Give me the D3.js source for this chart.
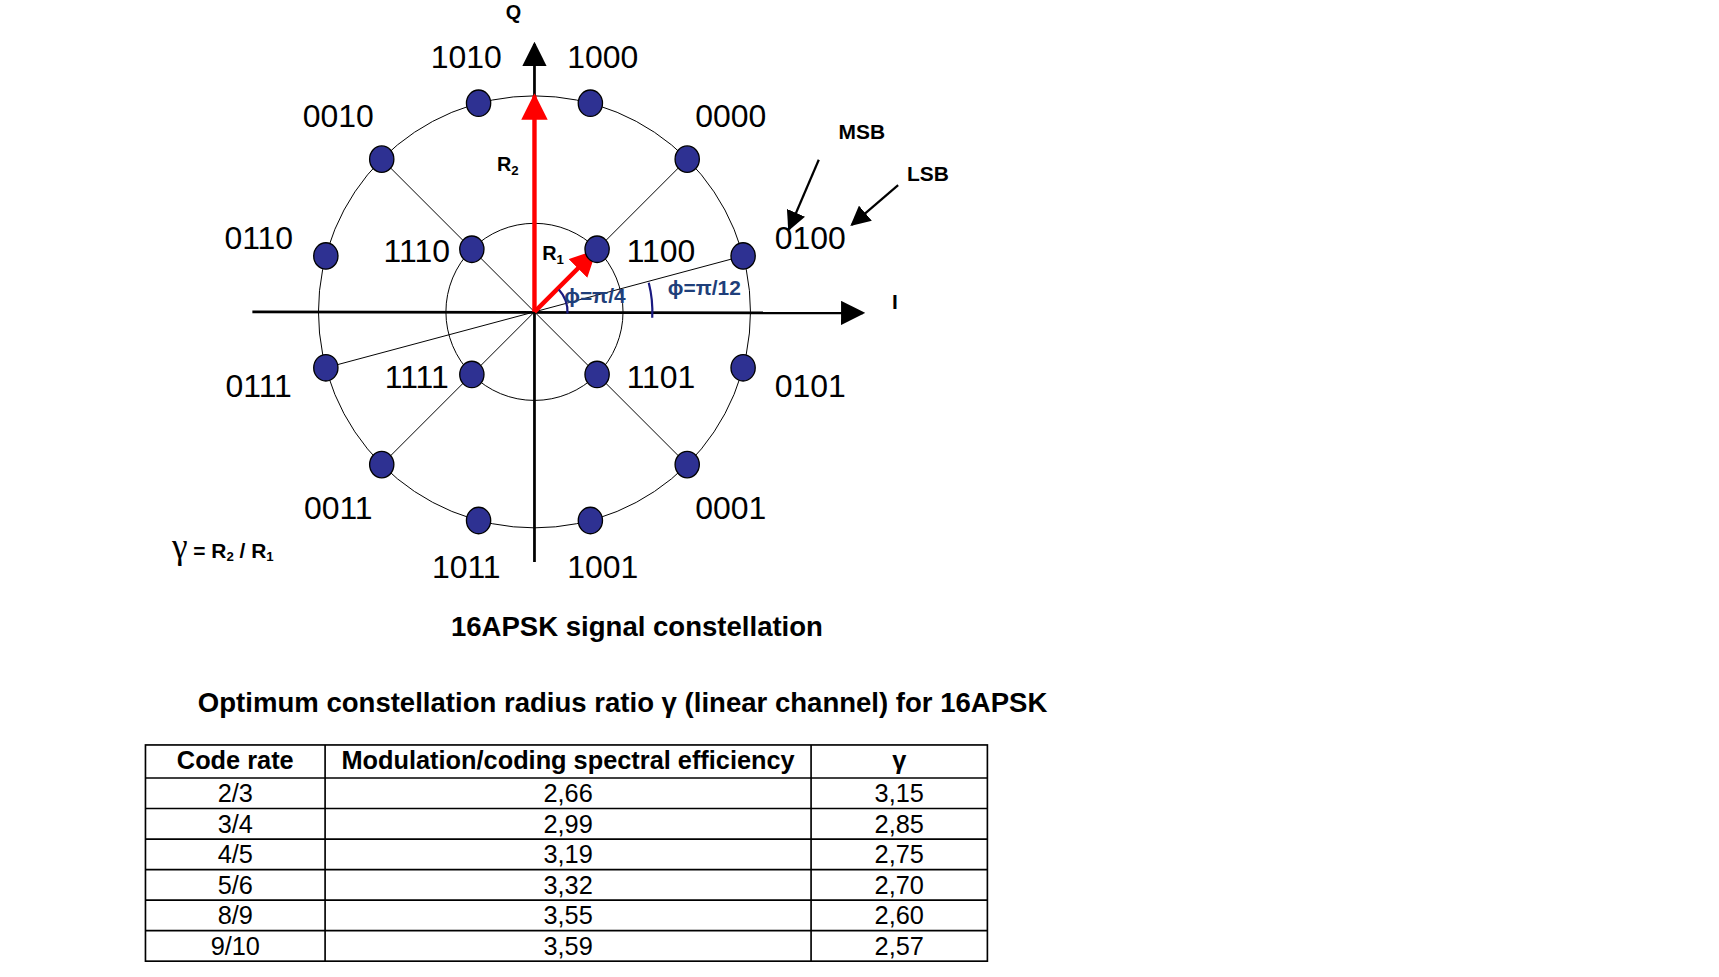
<!DOCTYPE html>
<html>
<head>
<meta charset="utf-8">
<script src="https://cdn.jsdelivr.net/npm/d3@7"></script>
<style>
  body { margin: 0; background: #fff; }
  text { font-family: "Liberation Sans Narrow", "Liberation Sans", Arial, sans-serif; }
</style>
</head>
<body>
<div id="chart"></div>
<script>
// outer ring symbols, 12 points starting at 15 degrees, 30 degrees apart
var outerBits = ["0100", "1000", "1010", "0010", "0110", "0111",
                 "0011", "1011", "1001", "0001", "0101", "0000"];
var outerAngles = [15, 75, 105, 135, 165, 195, 225, 255, 285, 315, 345, 45];
// inner ring symbols, 4 points at 45 + 90k degrees
var innerBits = ["1100", "1110", "1111", "1101"];
var innerAngles = [45, 135, 225, 315];
var ringRadius = { inner: 0.41, outer: 1 };

// table
var tableHeader = ["Code rate", "Modulation/coding spectral efficiency", "γ"];
var codeRates = ["2/3", "3/4", "4/5", "5/6", "8/9", "9/10"];
var spectralEff = ["2,66", "2,99", "3,19", "3,32", "3,55", "3,59"];
var gammaValues = ["3,15", "2,85", "2,75", "2,70", "2,60", "2,57"];

var W = 1719, H = 977, s = 1.102;
var svg = d3.select("#chart").append("svg").attr("width", W).attr("height", H);
var g = svg.append("g").attr("transform", "scale(" + s + ")");

var defs = svg.append("defs");
function marker(id, color, size) {
  defs.append("marker").attr("id", id).attr("viewBox", "0 0 10 10")
    .attr("refX", 9).attr("refY", 5).attr("markerWidth", size).attr("markerHeight", size)
    .attr("markerUnits", "userSpaceOnUse").attr("orient", "auto")
    .append("path").attr("d", "M0,0L10,5L0,10z").attr("fill", color);
}
marker("blk", "#000", 22);
marker("red", "#f00", 24);
marker("blk2", "#000", 18);

var cx = 485, cy = 283;
var r = d3.scaleLinear().domain([0, 1]).range([0, 196]);
function pos(a, rad) {
  var t = a * Math.PI / 180;
  return [cx + rad * Math.cos(t), cy - rad * Math.sin(t)];
}

// circles
[ringRadius.inner, ringRadius.outer].forEach(function (v) {
  g.append("circle").attr("cx", cx).attr("cy", cy).attr("r", r(v))
    .attr("fill", "none").attr("stroke", "#000").attr("stroke-width", 0.9);
});

// spokes through center
[[135, 315], [45, 225], [15, 195]].forEach(function (p) {
  var a = pos(p[0], r(1)), b = pos(p[1], r(1));
  g.append("line").attr("x1", a[0]).attr("y1", a[1]).attr("x2", b[0]).attr("y2", b[1])
    .attr("stroke", "#000").attr("stroke-width", 0.9);
});

// axes
g.append("line").attr("x1", 229).attr("y1", cy).attr("x2", 783).attr("y2", cy + 1)
  .attr("stroke", "#000").attr("stroke-width", 2.5).attr("marker-end", "url(#blk)");
g.append("line").attr("x1", cx).attr("y1", 510).attr("x2", cx).attr("y2", 40)
  .attr("stroke", "#000").attr("stroke-width", 2.5).attr("marker-end", "url(#blk)");
g.append("text").attr("x", 466).attr("y", 17).attr("text-anchor", "middle")
  .attr("font-weight", "bold").attr("font-size", 18).text("Q");
g.append("text").attr("x", 812).attr("y", 280).attr("text-anchor", "middle")
  .attr("font-weight", "bold").attr("font-size", 19).text("I");

// red radius arrows
var p2 = pos(90, r(1)), p1 = pos(45, r(ringRadius.inner) - 3);
g.append("line").attr("x1", cx).attr("y1", cy).attr("x2", p2[0]).attr("y2", p2[1])
  .attr("stroke", "#f00").attr("stroke-width", 4).attr("marker-end", "url(#red)");
g.append("line").attr("x1", cx).attr("y1", cy).attr("x2", p1[0]).attr("y2", p1[1])
  .attr("stroke", "#f00").attr("stroke-width", 4).attr("marker-end", "url(#red)");
function rlabel(x, y, sub) {
  var t = g.append("text").attr("x", x).attr("y", y).attr("font-weight", "bold").attr("font-size", 18);
  t.append("tspan").text("R");
  t.append("tspan").attr("font-size", 12).attr("dy", 4).text(sub);
}
rlabel(451, 155, "2");
rlabel(492, 236, "1");

// angle arcs
var arc = d3.arc();
[[30, 45], [107, 15]].forEach(function (d) {
  g.append("path").attr("transform", "translate(" + cx + "," + cy + ")")
    .attr("d", arc({ innerRadius: d[0], outerRadius: d[0], startAngle: Math.PI / 2 - d[1] * Math.PI / 180 * 0.95, endAngle: Math.PI / 2 + 0.05 }))
    .attr("fill", "none").attr("stroke", "#1a1a80").attr("stroke-width", 2);
});
g.append("text").attr("x", 512).attr("y", 275).attr("fill", "#1f3f7a").attr("font-size", 19)
  .attr("font-family", "Liberation Serif, serif").attr("font-weight", "bold").text("ϕ=π/4");
g.append("text").attr("x", 606).attr("y", 268).attr("fill", "#1f3f7a").attr("font-size", 19)
  .attr("font-family", "Liberation Serif, serif").attr("font-weight", "bold").text("ϕ=π/12");

// symbol points and labels
var pts = outerBits.map(function (b, i) { return { bits: b, a: outerAngles[i], ring: "outer" }; })
  .concat(innerBits.map(function (b, i) { return { bits: b, a: innerAngles[i], ring: "inner" }; }));
pts.forEach(function (d) {
  var p = pos(d.a, r(ringRadius[d.ring]));
  g.append("ellipse").attr("cx", p[0]).attr("cy", p[1]).attr("rx", 11).attr("ry", 12)
    .attr("fill", "#2e3192").attr("stroke", "#000").attr("stroke-width", 1.2);
  var lp, c = Math.cos(d.a * Math.PI / 180);
  if (d.ring === "outer") {
    lp = pos(d.a, 232 + 28 * Math.abs(c));
  } else {
    lp = [p[0] + (c > 0 ? 58 : -50), p[1] + 2];
  }
  g.append("text").attr("x", lp[0]).attr("y", lp[1] + 10).attr("text-anchor", "middle")
    .attr("font-size", 29).text(d.bits);
});

// MSB / LSB
g.append("text").attr("x", 782).attr("y", 126).attr("text-anchor", "middle")
  .attr("font-weight", "bold").attr("font-size", 19).text("MSB");
g.append("text").attr("x", 842).attr("y", 164).attr("text-anchor", "middle")
  .attr("font-weight", "bold").attr("font-size", 19).text("LSB");
g.append("line").attr("x1", 743).attr("y1", 145).attr("x2", 716).attr("y2", 208)
  .attr("stroke", "#000").attr("stroke-width", 2).attr("marker-end", "url(#blk2)");
g.append("line").attr("x1", 815).attr("y1", 168).attr("x2", 773).attr("y2", 204)
  .attr("stroke", "#000").attr("stroke-width", 2).attr("marker-end", "url(#blk2)");

// gamma formula
var gf = g.append("text").attr("x", 156).attr("y", 506).attr("font-weight", "bold").attr("font-size", 19);
gf.append("tspan").attr("font-size", 32).attr("font-weight", "normal").attr("font-family", "Liberation Serif, serif").text("γ");
gf.append("tspan").text(" = R");
gf.append("tspan").attr("font-size", 12).attr("dy", 3).text("2");
gf.append("tspan").attr("dy", -3).text(" / R");
gf.append("tspan").attr("font-size", 12).attr("dy", 3).text("1");

// titles
g.append("text").attr("x", 578).attr("y", 577).attr("text-anchor", "middle")
  .attr("font-weight", "bold").attr("font-size", 25).text("16APSK signal constellation");
g.append("text").attr("x", 565).attr("y", 646).attr("text-anchor", "middle")
  .attr("font-weight", "bold").attr("font-size", 25).text("Optimum constellation radius ratio γ (linear channel) for 16APSK");

// table
var colEdges = [132, 295, 736, 896];
var rowY = d3.scaleLinear().domain([0, 1]).range([706, 733.7]);
var rows = codeRates.map(function (c, i) { return [c, spectralEff[i], gammaValues[i]]; });
g.append("rect").attr("x", 132).attr("y", 676).attr("width", 764).attr("height", rowY(6) - 676)
  .attr("fill", "none").attr("stroke", "#000").attr("stroke-width", 1.5);
colEdges.slice(1, 3).forEach(function (x) {
  g.append("line").attr("x1", x).attr("x2", x).attr("y1", 676).attr("y2", rowY(6))
    .attr("stroke", "#000").attr("stroke-width", 1.5);
});
d3.range(0, 6).forEach(function (i) {
  g.append("line").attr("x1", 132).attr("x2", 896).attr("y1", rowY(i)).attr("y2", rowY(i))
    .attr("stroke", "#000").attr("stroke-width", 1.5);
});
tableHeader.forEach(function (h, j) {
  g.append("text").attr("x", (colEdges[j] + colEdges[j + 1]) / 2).attr("y", 698)
    .attr("text-anchor", "middle").attr("font-weight", "bold").attr("font-size", 23).text(h);
});
rows.forEach(function (row, i) {
  row.forEach(function (v, j) {
    g.append("text").attr("x", (colEdges[j] + colEdges[j + 1]) / 2).attr("y", rowY(i) + 22)
      .attr("text-anchor", "middle").attr("font-size", 23).text(v);
  });
});
</script>
</body>
</html>
